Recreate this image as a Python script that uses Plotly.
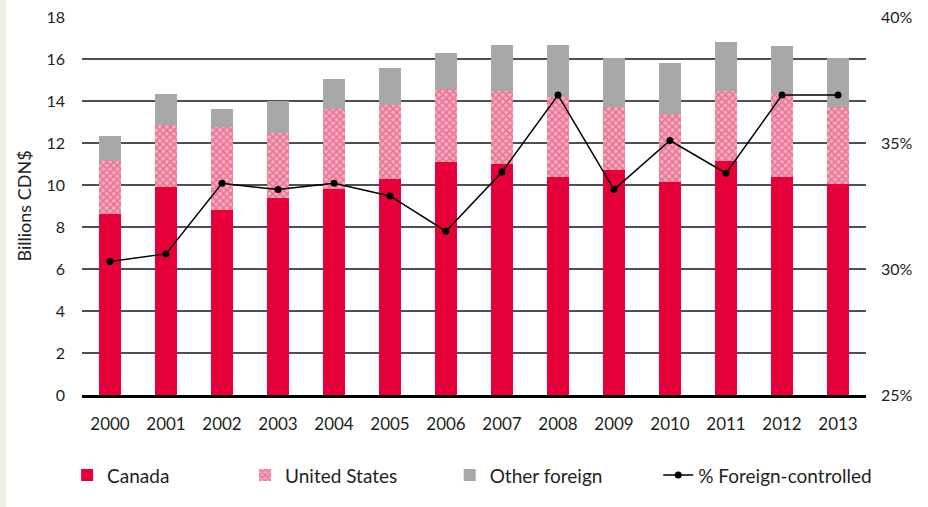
import plotly.graph_objects as go

years = ["2000", "2001", "2002", "2003", "2004", "2005", "2006",
         "2007", "2008", "2009", "2010", "2011", "2012", "2013"]
canada = [8.6, 9.9, 8.8, 9.4, 9.8, 10.3, 11.1, 11.0, 10.4, 10.7, 10.15, 11.15, 10.4, 10.05]
us_top = [11.15, 12.85, 12.75, 12.5, 13.6, 13.8, 14.55, 14.5, 14.2, 13.7, 13.4, 14.5, 14.4, 13.7]
total = [12.35, 14.35, 13.6, 14.0, 15.05, 15.55, 16.3, 16.65, 16.65, 16.05, 15.8, 16.8, 16.6, 16.05]
pct_foreign = [30.3, 30.6, 33.4, 33.15, 33.4, 32.9, 31.5, 33.85, 36.9, 33.15, 35.1, 33.8, 36.9, 36.9]

united_states = [round(u - c, 2) for u, c in zip(us_top, canada)]
other_foreign = [round(t - u, 2) for t, u in zip(total, us_top)]

y_ticks = list(range(0, 19, 2))
pct_ticks = [25, 30, 35, 40]
pct_labels = ["25%", "30%", "35%", "40%"]

FONT = "Lato"
TXT = "#231f20"

fig = go.Figure()
fig.add_trace(go.Bar(x=years, y=canada, name="Canada", legend="legend",
                     marker=dict(color="#e5003a", line=dict(width=0))))
fig.add_trace(go.Bar(x=years, y=united_states, name="United States", legend="legend2",
                     marker=dict(color="#f295ab", line=dict(width=0),
                                 pattern=dict(shape="x", size=5, solidity=0.5,
                                              fgcolor="#df3562", bgcolor="#f6adbf"))))
fig.add_trace(go.Bar(x=years, y=other_foreign, name="Other foreign", legend="legend3",
                     marker=dict(color="#a8a8a8", line=dict(width=0))))
fig.add_trace(go.Scatter(x=years, y=pct_foreign, name="% Foreign-controlled",
                         yaxis="y2", mode="lines+markers", legend="legend4",
                         line=dict(color="black", width=1.5),
                         marker=dict(color="black", size=7)))

leg_common = dict(orientation="h", y=-0.162, xanchor="left", yanchor="top",
                  font=dict(size=19, color=TXT), bgcolor="rgba(0,0,0,0)")

fig.update_layout(
    width=928, height=507,
    barmode="stack", bargap=0.6,
    paper_bgcolor="white", plot_bgcolor="white",
    margin=dict(l=82, r=62, t=17, b=112, autoexpand=False),
    font=dict(family=FONT, size=16, color=TXT),
    xaxis=dict(type="category", range=[-0.5, 13.5], showgrid=False, showline=True,
               linecolor="black", linewidth=3, ticks="", ticklabelstandoff=12,
               automargin=False, tickfont=dict(size=17, color=TXT)),
    yaxis=dict(range=[0, 18], tickvals=y_ticks, showgrid=True, gridcolor="#505050",
               gridwidth=1.6, zeroline=False, ticks="", ticklabelstandoff=16,
               automargin=False,
               title=dict(text="Billions CDN$", font=dict(size=18, color=TXT), standoff=10),
               tickfont=dict(size=16, color=TXT)),
    yaxis2=dict(range=[25, 40], tickvals=pct_ticks, ticktext=pct_labels,
                overlaying="y", side="right", showgrid=False, zeroline=False,
                automargin=False,
                ticks="", ticklabelstandoff=14, tickfont=dict(size=16, color=TXT)),
    legend=dict(x=-0.019, **leg_common),
    legend2=dict(x=0.208, **leg_common),
    legend3=dict(x=0.469, **leg_common),
    legend4=dict(x=0.735, **leg_common),
    showlegend=True,
)

fig.add_shape(type="rect", xref="paper", yref="paper",
              x0=-82/784, x1=-76/784, y0=-112/378, y1=(378+17)/378,
              fillcolor="#efeee9", line=dict(width=0), layer="below")

fig.write_html("out.html", config={"displayModeBar": False},
               post_script="document.body.style.margin='0';")
